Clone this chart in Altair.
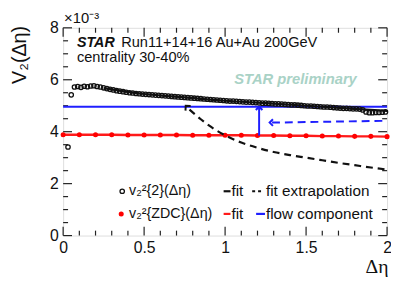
import altair as alt
import pandas as pd

# ---------------- data (values in units of 1e-3) ----------------
v22_x = [0.03, 0.05, 0.07, 0.09, 0.11, 0.13, 0.15, 0.17, 0.19, 0.21,
         0.23, 0.25, 0.27, 0.29, 0.31, 0.33, 0.35, 0.37, 0.39, 0.41,
         0.43, 0.45, 0.47, 0.49, 0.51, 0.53, 0.55, 0.57, 0.59, 0.61,
         0.63, 0.65, 0.67, 0.69, 0.71, 0.73, 0.75, 0.77, 0.79, 0.81,
         0.83, 0.85, 0.87, 0.89, 0.91, 0.93, 0.95, 0.97, 0.99, 1.01,
         1.03, 1.05, 1.07, 1.09, 1.11, 1.13, 1.15, 1.17, 1.19, 1.21,
         1.23, 1.25, 1.27, 1.29, 1.31, 1.33, 1.35, 1.37, 1.39, 1.41,
         1.43, 1.45, 1.47, 1.49, 1.51, 1.53, 1.55, 1.57, 1.59, 1.61,
         1.63, 1.65, 1.67, 1.69, 1.71, 1.73, 1.75, 1.77, 1.79, 1.81,
         1.83, 1.85, 1.87, 1.89, 1.91, 1.93, 1.95, 1.97, 1.99]
v22_y = [3.41, 5.42, 5.72, 5.74, 5.71, 5.75, 5.73, 5.76, 5.77, 5.74,
         5.72, 5.69, 5.66, 5.63, 5.61, 5.58, 5.56, 5.54, 5.52, 5.50,
         5.49, 5.47, 5.46, 5.45, 5.44, 5.43, 5.42, 5.41, 5.40, 5.39,
         5.38, 5.37, 5.36, 5.35, 5.34, 5.33, 5.32, 5.31, 5.30, 5.29,
         5.28, 5.27, 5.26, 5.25, 5.24, 5.23, 5.22, 5.21, 5.20, 5.19,
         5.18, 5.18, 5.17, 5.16, 5.15, 5.14, 5.14, 5.13, 5.12, 5.11,
         5.10, 5.10, 5.09, 5.08, 5.07, 5.07, 5.06, 5.05, 5.04, 5.03,
         5.03, 5.02, 5.01, 5.00, 4.99, 4.99, 4.98, 4.97, 4.96, 4.95,
         4.95, 4.94, 4.93, 4.92, 4.91, 4.90, 4.90, 4.89, 4.88, 4.88,
         4.87, 4.84, 4.76, 4.73, 4.73, 4.74, 4.74, 4.75, 4.76]

fit_x = [0.25, 0.5, 0.75, 1.0, 1.25, 1.5, 1.75, 2.0]
fit_y = [5.68, 5.45, 5.32, 5.19, 5.10, 5.00, 4.90, 4.80]

extrap_x = [0.78, 0.85, 0.90, 1.00, 1.10, 1.20, 1.30, 1.40, 1.50, 1.60, 1.70, 1.80, 1.90, 2.00]
extrap_y = [4.85, 4.48, 4.24, 3.86, 3.58, 3.38, 3.22, 3.10, 3.00, 2.90, 2.80, 2.71, 2.62, 2.54]
extrap_tip = (0.757, 5.0)

zdc_x = [0.0, 0.1, 0.2, 0.3, 0.4, 0.5, 0.6, 0.7, 0.8, 0.9, 1.0,
         1.1, 1.2, 1.3, 1.4, 1.5, 1.6, 1.7, 1.8, 1.9, 2.0]
zdc_y = [3.88, 3.88, 3.88, 3.88, 3.87, 3.87, 3.87, 3.87, 3.86, 3.86, 3.86,
         3.86, 3.85, 3.85, 3.84, 3.84, 3.83, 3.83, 3.82, 3.82, 3.81]

flow_level = 4.96
flow_arrow_x = 1.21
flow_dash_x = [1.29, 2.0]
flow_dash_y = [4.35, 4.42]
flow_dash_tip = (1.275, 4.35)

x_major = [0, 0.5, 1, 1.5, 2]
x_minor = [0.1, 0.2, 0.3, 0.4, 0.6, 0.7, 0.8, 0.9, 1.1, 1.2, 1.3, 1.4,
           1.6, 1.7, 1.8, 1.9]
y_major = [0, 2, 4, 6, 8]
y_minor = [0.5, 1, 1.5, 2.5, 3, 3.5, 4.5, 5, 5.5, 6.5, 7, 7.5]

# ---------------- layout ----------------
W, H = 329, 211
FONT = "Liberation Sans"
CHEV = "M-1,1L0,0L1,1"

xs = alt.Scale(domain=[0, 2], nice=False, zero=False)
ys = alt.Scale(domain=[0, 8], nice=False, zero=False)
xax = alt.Axis(values=x_major, format="~g", ticks=False, domain=False, grid=False,
               labelFont=FONT, labelFontSize=16, labelColor="#111", labelPadding=4,
               labelFlush=False, title="Δη", titleFont="Liberation Serif",
               titleFontSize=20, titleFontWeight="normal", titleColor="#111",
               titleAnchor="end", titleAlign="right", titleX=W + 1, titleY=38,
               titleBaseline="alphabetic")
yax = alt.Axis(values=y_major, format="~g", ticks=False, domain=False, grid=False,
               labelFont=FONT, labelFontSize=16, labelColor="#111", labelPadding=5,
               labelFlush=False, title="V₂(Δη)", titleFont=FONT,
               titleFontSize=20, titleFontWeight="normal", titleColor="#111",
               titleAngle=270, titleAlign="center", titleX=-44, titleY=27,
               titleBaseline="middle")


def X(f="x"):
    return alt.X(f"{f}:Q", scale=xs, axis=xax)


def Y(f="y"):
    return alt.Y(f"{f}:Q", scale=ys, axis=yax)


one = pd.DataFrame({"a": [0]})

layers = []


def tick_layers(vals, L):
    d = pd.DataFrame({"v": vals})
    base = alt.Chart(d).mark_rule(color="#222", strokeWidth=1.2)
    return [
        base.encode(x=alt.X("v:Q", scale=xs, axis=xax), y=alt.value(H), y2=alt.value(H - L)),
        base.encode(x=alt.X("v:Q", scale=xs, axis=xax), y=alt.value(0), y2=alt.value(L)),
    ]


def ytick_layers(vals, L):
    d = pd.DataFrame({"v": vals})
    base = alt.Chart(d).mark_rule(color="#222", strokeWidth=1.2)
    return [
        base.encode(y=alt.Y("v:Q", scale=ys, axis=yax), x=alt.value(0), x2=alt.value(L)),
        base.encode(y=alt.Y("v:Q", scale=ys, axis=yax), x=alt.value(W), x2=alt.value(W - L)),
    ]


layers += tick_layers(x_major, 9) + tick_layers(x_minor, 5)
layers += ytick_layers(y_major, 9) + ytick_layers(y_minor, 5)

# flow component (blue)
flow_df = pd.DataFrame({"x": [0, 2], "y": [flow_level, flow_level]})
layers.append(alt.Chart(flow_df).mark_line(color="#1f1fff", strokeWidth=2).encode(x=X(), y=Y()))

# ZDC fit + points (red)
zdc_df = pd.DataFrame({"x": zdc_x, "y": zdc_y})
layers.append(alt.Chart(zdc_df).mark_line(color="#ff1a1a", strokeWidth=2.5).encode(x=X(), y=Y()))
layers.append(alt.Chart(zdc_df).mark_point(filled=True, color="#ff0000", size=26, opacity=1)
              .encode(x=X(), y=Y()))

# blue vertical arrow
varrow = pd.DataFrame({"x": [flow_arrow_x], "y": [zdc_y[12]], "y2": [flow_level]})
layers.append(alt.Chart(varrow).mark_rule(color="#1f1fff", strokeWidth=2)
              .encode(x=X(), y=Y(), y2="y2:Q"))
layers.append(alt.Chart(varrow).mark_point(shape=CHEV, filled=False, color="#1f1fff",
                                           strokeWidth=2, size=45, opacity=1)
              .encode(x=X(), y=Y("y2")))

# blue dashed with left chevron
fd = pd.DataFrame({"x": flow_dash_x, "y": flow_dash_y})
layers.append(alt.Chart(fd).mark_line(color="#1f1fff", strokeWidth=2, strokeDash=[8, 5])
              .encode(x=X(), y=Y()))
fdt = pd.DataFrame({"x": [flow_dash_tip[0]], "y": [flow_dash_tip[1]]})
layers.append(alt.Chart(fdt).mark_point(shape=CHEV, filled=False, color="#1f1fff",
                                        strokeWidth=2, size=45, angle=270, opacity=1)
              .encode(x=X(), y=Y()))

# black fit extrapolation (dashed) with arrow head
ex = pd.DataFrame({"x": extrap_x, "y": extrap_y})
layers.append(alt.Chart(ex).mark_line(color="#111", strokeWidth=2.2, strokeDash=[7, 5],
                                      interpolate="monotone").encode(x=X(), y=Y()))
ext = pd.DataFrame({"x": [extrap_tip[0]], "y": [extrap_tip[1]]})
layers.append(alt.Chart(ext).mark_point(shape=CHEV, filled=False, color="#111",
                                        strokeWidth=2, size=50, angle=318, opacity=1)
              .encode(x=X(), y=Y()))

# black fit + open circles
fit_df = pd.DataFrame({"x": fit_x, "y": fit_y})
layers.append(alt.Chart(fit_df).mark_line(color="#111", strokeWidth=2.2, interpolate="monotone")
              .encode(x=X(), y=Y()))
v_df = pd.DataFrame({"x": v22_x, "y": v22_y})
layers.append(alt.Chart(v_df).mark_point(shape="circle", filled=False, color="#111",
                                         size=20, strokeWidth=1.3, opacity=1)
              .encode(x=X(), y=Y()))

# ---------------- texts ----------------
def txt(s, x, y, size=15.5, weight="normal", style="normal", color="#111",
        align="left", font=FONT):
    return alt.Chart(one).mark_text(text=s, font=font, fontSize=size, fontWeight=weight,
                                    fontStyle=style, color=color, align=align,
                                    baseline="middle").encode(x=alt.value(x), y=alt.value(y))


layers.append(txt("×10⁻³", 1, -10, size=15))
layers.append(txt("STAR", 14, 15, size=14.5, weight="bold", style="italic"))
layers.append(txt("Run11+14+16 Au+Au 200GeV", 59, 15, size=14.8))
layers.append(txt("centrality 30-40%", 14, 31, size=14.8))
layers.append(txt("STAR preliminary", 236, 52, size=15, weight="bold", style="italic",
                  color="#a9d2c6", align="center"))

# legend
R1, R2 = 166, 189
layers.append(alt.Chart(one).mark_point(shape="circle", filled=False, color="#111", size=20,
                                        strokeWidth=1.3, opacity=1)
              .encode(x=alt.value(60), y=alt.value(R1)))
layers.append(txt("v₂²{2}(Δη)", 67, R1, size=14.5))
layers.append(alt.Chart(one).mark_point(shape="circle", filled=True, color="#ff0000", size=26,
                                        opacity=1)
              .encode(x=alt.value(59), y=alt.value(R2)))
layers.append(txt("v₂²{ZDC}(Δη)", 67, R2, size=14.5))


def seg(x1, x2, y, color, dash=None):
    kw = dict(color=color, strokeWidth=2.2)
    if dash:
        kw["strokeDash"] = dash
    return alt.Chart(one).mark_rule(**kw).encode(x=alt.value(x1), x2=alt.value(x2), y=alt.value(y))


layers.append(seg(163, 170, R1, "#111"))
layers.append(txt("fit", 171, R1))
layers.append(seg(192, 202, R1, "#111", dash=[3, 3]))
layers.append(txt("fit extrapolation", 206, R1))
layers.append(seg(163, 170, R2, "#ff1a1a"))
layers.append(txt("fit", 171, R2))
layers.append(seg(196, 205, R2, "#1f1fff"))
layers.append(txt("flow component", 206, R2))

chart = alt.layer(*layers).properties(
    width=W, height=H,
    autosize=alt.AutoSizeParams(type="none"),
    padding={"left": 56, "top": 18, "right": 4, "bottom": 43},
).configure_view(stroke="#222", strokeWidth=2).configure(background="white")

chart.save("out.html", embed_options={"renderer": "svg", "actions": False})
